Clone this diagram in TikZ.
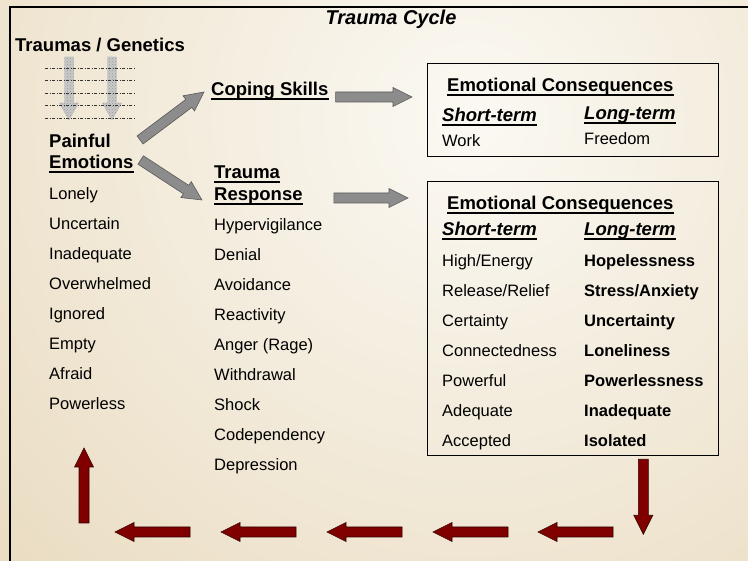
\documentclass[tikz,border=0pt]{standalone}
\usepackage{fontspec}
\setmainfont{Liberation Sans}
\usetikzlibrary{calc,positioning,patterns}
\definecolor{bgcream}{RGB}{251,249,243}
\definecolor{bgtan}{RGB}{222,200,160}
\definecolor{arrowgray}{RGB}{140,140,140}
\definecolor{darkred}{RGB}{128,0,0}
\tikzset{>=latex}

% fat block arrow from #2 to #3
\def\shw{5pt}\def\hdw{9.5pt}\def\hdl{19pt}
\newcommand\fatarrow[3][]{%
  \coordinate (fa-h) at ($(#3)!\hdl!(#2)$);
  \draw[#1] ($(#2)!\shw!90:(#3)$) -- ($(fa-h)!\shw!-90:(#2)$) -- ($(fa-h)!\hdw!-90:(#2)$) -- (#3)
    -- ($(fa-h)!\hdw!90:(#2)$) -- ($(fa-h)!\shw!90:(#2)$) -- ($(#2)!\shw!-90:(#3)$) -- cycle;}

\begin{document}
\begin{tikzpicture}[x=1pt,y=-1pt,
  txt/.style={anchor=base west,inner sep=0pt,font=\fontsize{16.5}{19}\selectfont},
  bftxt/.style={txt,font=\fontsize{16.5}{19}\selectfont\bfseries},
  head/.style={txt,font=\fontsize{18.5}{21}\selectfont\bfseries},
  term/.style={txt,font=\fontsize{18.5}{21}\selectfont\bfseries\itshape},
  ul/.style={append after command={([yshift=-3pt]\tikzlastnode.base west)
    edge[draw=black,line width=1.6pt] ([yshift=-3pt]\tikzlastnode.base east)}},
  cbox/.style={draw=black,line width=1.3pt,anchor=north west,inner sep=0pt},
  grayarrow/.style={fill=arrowgray,draw=black!65,line width=0.6pt},
  redarrow/.style={fill=darkred,draw=black!60!darkred,line width=0.6pt},
  fadearrow/.style={fill=gray!42,draw=gray!55,line width=0.4pt,
    postaction={pattern=crosshatch dots,pattern color=gray!80}},
  genline/.style={black!80,line width=0.6pt,dash pattern=on 3pt off 1.5pt on 1pt off 1.5pt}]

  \useasboundingbox (0,0) rectangle (748,561);
  % background
  \begin{scope}
    \clip (0,0) rectangle (748,561);
    \shade[inner color=bgcream,outer color=bgtan] (470,120) circle (1100);
  \end{scope}
  \draw[line width=2pt] (10,561) -- (10,7) -- (748,7);

  \node[term,anchor=base,font=\fontsize{20}{22}\selectfont\bfseries\itshape] (title) at (391,25) {Trauma Cycle};

  % traumas / genetics
  \node[head] (genetics) at (15,52) {Traumas / Genetics};
  \foreach \x in {69,112} {
    \def\shw{4.5pt}\def\hdw{9.5pt}\def\hdl{17pt}
    \coordinate (gt) at (\x,57);
    \coordinate (gh) at (\x,120);
    \fatarrow[fadearrow]{gt}{gh}
  }
  \foreach \y in {68,80.5,93,105.5,118}
    \draw[genline] (45,\y) -- (135,\y);

  % painful emotions
  \node[head] (painful) at (49,148) {Painful};
  \node[head,ul] (emotions) at (49,169) {Emotions};
  \foreach \w [count=\i from 0] in {Lonely,Uncertain,Inadequate,Overwhelmed,Ignored,Empty,Afraid,Powerless}
    \node[txt] (pe\i) at (49,200+30*\i) {\w};

  % coping / trauma response
  \node[head,ul] (coping) at (211,96) {Coping Skills};
  \node[head,ul] (trauma) at (214,179) {Trauma};
  \node[head,ul] (response) at (214,201) {Response};
  \foreach \w [count=\i from 0] in {Hypervigilance,Denial,Avoidance,Reactivity,Anger (Rage),Withdrawal,Shock,Codependency,Depression}
    \node[txt] (tr\i) at (214,231+30*\i) {\w};

  % consequence boxes
  \node[cbox,minimum width=291pt,minimum height=93pt] (shortbox) at (427,63) {};
  \node[head,ul] (sbhead) at (447,92) {Emotional Consequences};
  \node[term,ul] (sbshort) at (442,122) {Short-term};
  \node[term,ul] (sblong) at (584,120) {Long-term};
  \node[txt] (sbwork) at (442,147) {Work};
  \node[txt] (sbfree) at (584,145) {Freedom};

  \node[cbox,minimum width=291pt,minimum height=274pt] (longbox) at (427,181) {};
  \node[head,ul] (lbhead) at (447,210) {Emotional Consequences};
  \node[term,ul] (lbshort) at (442,236) {Short-term};
  \node[term,ul] (lblong) at (584,236) {Long-term};
  \foreach \w [count=\i from 0] in {High/Energy,Release/Relief,Certainty,Connectedness,Powerful,Adequate,Accepted}
    \node[txt] (ls\i) at (442,267+29.85*\i) {\w};
  \foreach \w [count=\i from 0] in {Hopelessness,Stress/Anxiety,Uncertainty,Loneliness,Powerlessness,Inadequate,Isolated}
    \node[bftxt] (ll\i) at (584,267+29.85*\i) {\w};

  % gray arrows
  \coordinate (up-tail) at ($(painful.base east)+(29,-8)$);
  \coordinate (up-tip) at ($(coping.base west)+(-7,-4)$);
  \coordinate (dn-tail) at ($(emotions.base east)+(7,-9)$);
  \coordinate (dn-tip) at ($(response.base west)+(-12,-1)$);
  \coordinate (cs-tail) at ($(coping.base east)+(7,1)$);
  \coordinate (cs-tip) at ($(cs-tail -| shortbox.west)+(-15,0)$);
  \coordinate (tr-tail) at ($(response.base east)+(31,-3)$);
  \coordinate (tr-tip) at ($(tr-tail -| longbox.west)+(-19,0)$);
  \fatarrow[grayarrow]{up-tail}{up-tip}
  \fatarrow[grayarrow]{dn-tail}{dn-tip}
  \fatarrow[grayarrow]{cs-tail}{cs-tip}
  \fatarrow[grayarrow]{tr-tail}{tr-tip}

  % red cycle
  \coordinate (lb-out) at ($(longbox.south east)+(-76,3)$);
  \coordinate (lb-in) at ($(lb-out)+(0,75)$);
  \fatarrow[redarrow]{lb-out}{lb-in}
  \foreach \x in {538,433,327,221,115} {
    \coordinate (rt) at (\x+75,532);
    \coordinate (rh) at (\x,532);
    \fatarrow[redarrow]{rt}{rh}
  }
  \coordinate (back-out) at (84,523);
  \coordinate (back-in) at (84,448);
  \fatarrow[redarrow]{back-out}{back-in}
\end{tikzpicture}
\end{document}
